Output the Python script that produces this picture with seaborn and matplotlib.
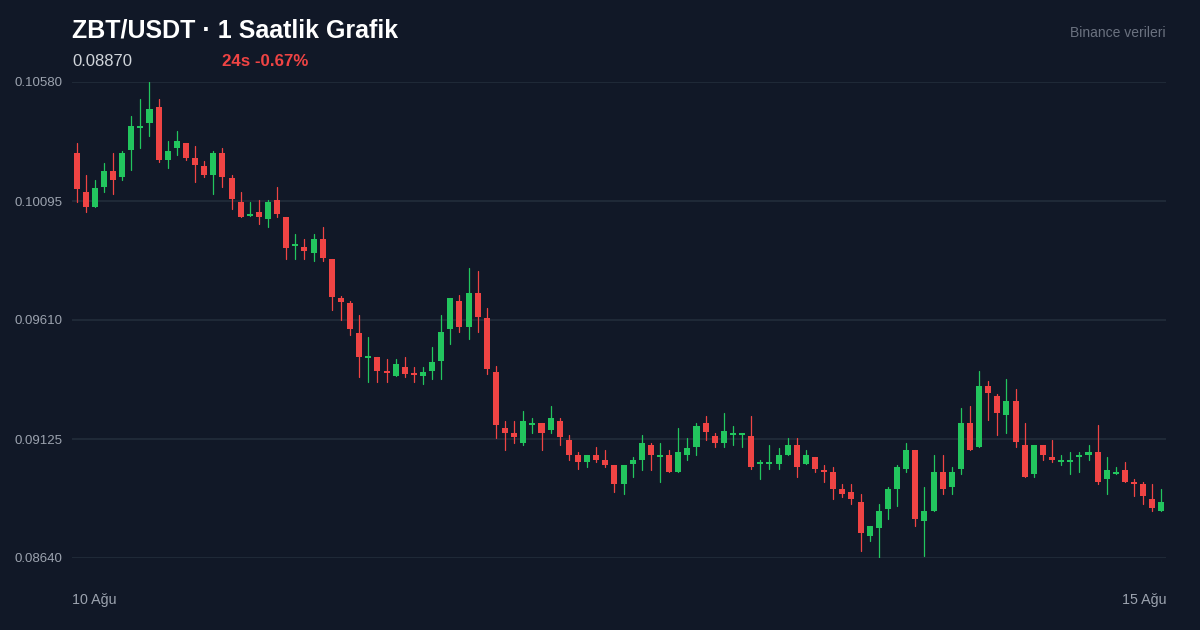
import numpy as np
import pandas as pd
import matplotlib
matplotlib.use('Agg')
import matplotlib.pyplot as plt
import seaborn as sns

# ZBT/USDT hourly candles, 10 Ağu -> 15 Ağu (120 bars)
opens = [
    0.10291, 0.10132, 0.10070, 0.10152, 0.10217, 0.10193, 0.10303, 0.10394, 0.10413, 0.10478,
    0.10262, 0.10311, 0.10331, 0.10270, 0.10238, 0.10201, 0.10291, 0.10189, 0.10091, 0.10034,
    0.10050, 0.10022, 0.10099, 0.10030, 0.09912, 0.09908, 0.09883, 0.09940, 0.09859, 0.09700,
    0.09679, 0.09557, 0.09455, 0.09459, 0.09398, 0.09382, 0.09418, 0.09390, 0.09382, 0.09402,
    0.09443, 0.09573, 0.09687, 0.09581, 0.09720, 0.09618, 0.09398, 0.09170, 0.09149, 0.09109,
    0.09183, 0.09190, 0.09162, 0.09198, 0.09121, 0.09060, 0.09031, 0.09060, 0.09039, 0.09019,
    0.08941, 0.09023, 0.09039, 0.09100, 0.09052, 0.09060, 0.08990, 0.09060, 0.09092, 0.09190,
    0.09137, 0.09109, 0.09142, 0.09142, 0.09137, 0.09023, 0.09023, 0.09023, 0.09060, 0.09100,
    0.09023, 0.09052, 0.08998, 0.08990, 0.08921, 0.08909, 0.08868, 0.08730, 0.08762, 0.08840,
    0.08921, 0.09003, 0.09080, 0.08791, 0.08831, 0.08990, 0.08929, 0.09003, 0.09190, 0.09092,
    0.09341, 0.09300, 0.09223, 0.09280, 0.09100, 0.08982, 0.09100, 0.09052, 0.09031, 0.09031,
    0.09052, 0.09060, 0.09072, 0.08962, 0.08982, 0.08998, 0.08950, 0.08941, 0.08880, 0.08831,
]
highs = [
    0.10331, 0.10201, 0.10181, 0.10250, 0.10291, 0.10299, 0.10441, 0.10511, 0.10580, 0.10511,
    0.10340, 0.10380, 0.10331, 0.10319, 0.10258, 0.10299, 0.10311, 0.10201, 0.10132, 0.10091,
    0.10099, 0.10099, 0.10152, 0.10030, 0.09960, 0.09940, 0.09960, 0.09989, 0.09859, 0.09708,
    0.09687, 0.09630, 0.09541, 0.09459, 0.09451, 0.09451, 0.09459, 0.09418, 0.09418, 0.09500,
    0.09630, 0.09700, 0.09712, 0.09822, 0.09810, 0.09659, 0.09422, 0.09198, 0.09198, 0.09239,
    0.09210, 0.09190, 0.09259, 0.09210, 0.09141, 0.09072, 0.09060, 0.09092, 0.09080, 0.09019,
    0.09019, 0.09052, 0.09141, 0.09109, 0.09109, 0.09080, 0.09170, 0.09129, 0.09190, 0.09219,
    0.09149, 0.09231, 0.09178, 0.09149, 0.09219, 0.09039, 0.09100, 0.09088, 0.09129, 0.09129,
    0.09080, 0.09052, 0.09019, 0.09011, 0.08941, 0.08941, 0.08901, 0.08770, 0.08860, 0.08929,
    0.09019, 0.09109, 0.09080, 0.08929, 0.09060, 0.09060, 0.09011, 0.09251, 0.09259, 0.09402,
    0.09361, 0.09308, 0.09369, 0.09329, 0.09190, 0.09100, 0.09100, 0.09121, 0.09060, 0.09072,
    0.09072, 0.09100, 0.09182, 0.09052, 0.09011, 0.09031, 0.08962, 0.08950, 0.08941, 0.08921,
]
lows = [
    0.10091, 0.10050, 0.10070, 0.10132, 0.10123, 0.10181, 0.10221, 0.10311, 0.10360, 0.10254,
    0.10229, 0.10283, 0.10262, 0.10172, 0.10193, 0.10123, 0.10152, 0.10062, 0.10030, 0.10034,
    0.10001, 0.09989, 0.10030, 0.09859, 0.09859, 0.09859, 0.09850, 0.09850, 0.09651, 0.09610,
    0.09549, 0.09378, 0.09357, 0.09357, 0.09357, 0.09382, 0.09378, 0.09357, 0.09349, 0.09369,
    0.09369, 0.09512, 0.09561, 0.09532, 0.09561, 0.09390, 0.09129, 0.09080, 0.09109, 0.09100,
    0.09149, 0.09080, 0.09149, 0.09100, 0.09039, 0.09003, 0.09011, 0.09031, 0.09011, 0.08909,
    0.08901, 0.08970, 0.08998, 0.08998, 0.08950, 0.08990, 0.08990, 0.09039, 0.09060, 0.09121,
    0.09092, 0.09092, 0.09100, 0.09092, 0.09003, 0.08962, 0.09003, 0.09003, 0.09060, 0.08970,
    0.09023, 0.08990, 0.08950, 0.08880, 0.08888, 0.08860, 0.08668, 0.08709, 0.08640, 0.08799,
    0.08852, 0.08990, 0.08770, 0.08648, 0.08831, 0.08901, 0.08901, 0.08982, 0.09080, 0.09092,
    0.09202, 0.09141, 0.09149, 0.09092, 0.08970, 0.08970, 0.09039, 0.09031, 0.09019, 0.08982,
    0.08990, 0.09039, 0.08941, 0.08901, 0.08982, 0.08950, 0.08893, 0.08860, 0.08831, 0.08831,
]
closes = [
    0.10144, 0.10070, 0.10148, 0.10217, 0.10181, 0.10291, 0.10401, 0.10400, 0.10470, 0.10262,
    0.10299, 0.10340, 0.10270, 0.10242, 0.10201, 0.10291, 0.10193, 0.10103, 0.10030, 0.10040,
    0.10030, 0.10091, 0.10042, 0.09903, 0.09918, 0.09891, 0.09940, 0.09863, 0.09704, 0.09683,
    0.09573, 0.09459, 0.09459, 0.09402, 0.09394, 0.09431, 0.09390, 0.09384, 0.09398, 0.09439,
    0.09561, 0.09700, 0.09581, 0.09720, 0.09622, 0.09410, 0.09182, 0.09149, 0.09133, 0.09198,
    0.09190, 0.09149, 0.09210, 0.09133, 0.09060, 0.09031, 0.09060, 0.09039, 0.09021, 0.08941,
    0.09019, 0.09039, 0.09109, 0.09060, 0.09060, 0.08990, 0.09072, 0.09088, 0.09178, 0.09153,
    0.09109, 0.09158, 0.09149, 0.09149, 0.09011, 0.09030, 0.09030, 0.09060, 0.09100, 0.09011,
    0.09060, 0.09003, 0.08990, 0.08921, 0.08901, 0.08880, 0.08742, 0.08770, 0.08831, 0.08921,
    0.09011, 0.09080, 0.08799, 0.08831, 0.08990, 0.08921, 0.08990, 0.09190, 0.09080, 0.09341,
    0.09312, 0.09231, 0.09280, 0.09113, 0.08970, 0.09100, 0.09060, 0.09039, 0.09039, 0.09039,
    0.09060, 0.09070, 0.08950, 0.08998, 0.08990, 0.08950, 0.08941, 0.08893, 0.08844, 0.08870,
]
y_ticks = [0.08640, 0.09125, 0.09610, 0.10095, 0.10580]
date_labels = ["10 Ağu", "15 Ağu"]

BG = "#111827"
GRID = "#1f2937"
UP = "#22c55e"
DOWN = "#ef4444"
TICK = "#9ca3af"

sns.set_theme(style="dark", rc={"axes.facecolor": BG, "figure.facecolor": BG})
plt.rcParams['font.family'] = ['Liberation Sans', 'DejaVu Sans']

df = pd.DataFrame({"open": opens, "high": highs, "low": lows, "close": closes})
df["idx"] = np.arange(len(df))
df["dir"] = np.where(df["close"] >= df["open"], "up", "down")

# long table for wicks: two points per candle
wicks = pd.concat([
    df[["idx", "dir"]].assign(price=df["low"]),
    df[["idx", "dir"]].assign(price=df["high"]),
]).sort_values(["idx", "price"])

fig = plt.figure(figsize=(12, 6.3), dpi=100)
ax = fig.add_axes([72 / 1200, 1 - 558 / 630, 1094 / 1200, 476 / 630])
ax.set_facecolor(BG)

sns.lineplot(data=wicks, x="idx", y="price", units="idx", estimator=None,
             hue="dir", palette={"up": UP, "down": DOWN}, sort=False,
             linewidth=0.9, legend=False, ax=ax)

min_h = 0.00008
body_lo = np.minimum(df["open"], df["close"])
body_h = np.maximum((df["close"] - df["open"]).abs(), min_h)
colors = [UP if d == "up" else DOWN for d in df["dir"]]
ax.bar(df["idx"], body_h, bottom=body_lo, width=0.66, color=colors,
       linewidth=0, zorder=3)

ax.set_xlim(-0.5, len(df) - 0.5)
ax.set_ylim(y_ticks[0], y_ticks[-1])
ax.set_yticks(y_ticks)
ax.set_yticklabels([f"{v:.5f}" for v in y_ticks], color=TICK, fontsize=9.5)
ax.tick_params(axis='y', length=0, pad=7)
ax.grid(axis='y', color=GRID, linewidth=1.5)
ax.grid(axis='x', visible=False)
ax.set_axisbelow(True)
for s in ax.spines.values():
    s.set_visible(False)
ax.set_xlabel("")
ax.set_ylabel("")

ax.set_xticks([-0.5, len(df) - 0.5])
ax.set_xticklabels(date_labels, color=TICK, fontsize=10.3)
ax.tick_params(axis='x', length=0, pad=25)
xl = ax.get_xticklabels()
xl[0].set_ha('left')
xl[1].set_ha('right')

fig.text(72 / 1200, 1 - 30 / 630, "ZBT/USDT · 1 Saatlik Grafik", color="white",
         fontsize=18, fontweight='bold', va='center', ha='left')
fig.text(72 / 1200, 1 - 61 / 630, "0.08870", color="#d1d5db",
         fontsize=12, va='center', ha='left')
fig.text(222 / 1200, 1 - 61 / 630, "24s -0.67%", color=DOWN,
         fontsize=12.2, fontweight='bold', va='center', ha='left')
fig.text(1166 / 1200, 1 - 33 / 630, "Binance verileri", color="#6b7280",
         fontsize=10, va='center', ha='right')

fig.savefig("out.png", dpi=100, facecolor=BG)
